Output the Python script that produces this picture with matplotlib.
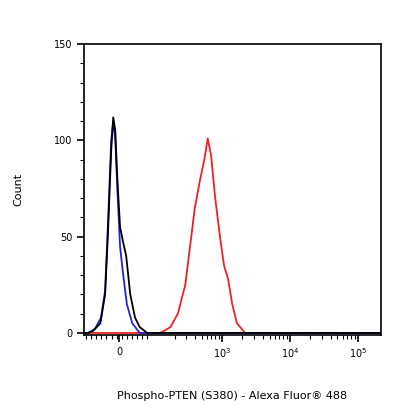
import matplotlib
matplotlib.use("Agg")
import matplotlib.pyplot as plt
import numpy as np

# x in decade units of the display axis (3 = 10^3), y = counts
black_x = [0.97, 1.03, 1.10, 1.21, 1.28, 1.32, 1.37, 1.40, 1.43, 1.46, 1.50, 1.54, 1.59, 1.65, 1.72, 1.79, 1.90, 5.34]
black_y = [0, 0, 1, 5, 20, 50, 95, 112, 105, 80, 55, 48, 40, 20, 8, 3, 0, 0]
blue_x = [0.97, 1.03, 1.13, 1.22, 1.28, 1.32, 1.37, 1.40, 1.43, 1.46, 1.50, 1.54, 1.60, 1.68, 1.79, 5.34]
blue_y = [0, 0, 2, 8, 22, 55, 100, 110, 100, 75, 45, 32, 15, 5, 0, 0]
red_x = [0.97, 2.09, 2.24, 2.35, 2.46, 2.53, 2.60, 2.68, 2.74, 2.79, 2.84, 2.90, 2.97, 3.03, 3.09, 3.15, 3.22, 3.34, 5.34]
red_y = [0, 0, 3, 10, 25, 45, 65, 80, 90, 101, 92, 70, 50, 35, 28, 15, 5, 0, 0]

xtick_pos = [1.49, 3, 4, 5]
xtick_labels = ["0", r"$10^3$", r"$10^4$", r"$10^5$"]
yticks = [0, 50, 100, 150]

fig = plt.figure(figsize=(4.16, 4.16), dpi=100)
ax = fig.add_axes([0.202, 0.195, 0.714, 0.699])
ax.plot(red_x, red_y, color="#ee2222", lw=1.3)
ax.plot(blue_x, blue_y, color="#2222dd", lw=1.3)
ax.plot(black_x, black_y, color="black", lw=1.3)
ax.set_xlim(0.97, 5.34)
ax.set_ylim(-1, 150)
ax.set_xticks(xtick_pos)
ax.set_xticklabels(xtick_labels, fontsize=7)
minor = []
for n in [2, 3, 4]:
    for k in range(2, 10):
        minor.append(n + np.log10(k))
minor += list(np.linspace(1.0, 1.9, 13))
ax.set_xticks([m for m in minor if 0.97 < m < 5.34], minor=True)
ax.set_yticks(yticks)
ax.set_yticklabels([str(v) for v in yticks], fontsize=7)
ax.set_yticks(np.arange(0, 151, 10), minor=True)
ax.tick_params(axis="both", which="major", length=5, width=1.2, direction="out")
ax.tick_params(axis="both", which="minor", length=3, width=0.8, direction="out")
for s in ax.spines.values():
    s.set_linewidth(1.2)
ax.set_xlabel("Phospho-PTEN (S380) - Alexa Fluor® 488", fontsize=8, labelpad=22)
ax.set_ylabel("Count", fontsize=8, labelpad=22)
fig.savefig("out.png", dpi=100)
